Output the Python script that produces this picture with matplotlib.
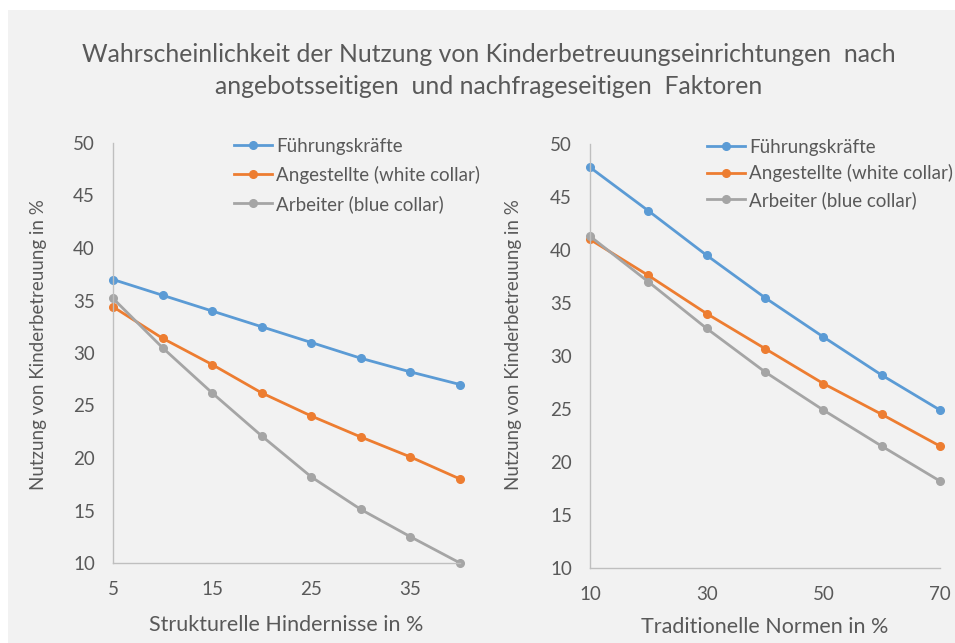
import matplotlib
matplotlib.use("Agg")
import matplotlib.pyplot as plt
from matplotlib.patches import Rectangle

plt.rcParams['font.family'] = ['Lato', 'DejaVu Sans']

# data
x_left = [5, 10, 15, 20, 25, 30, 35, 40]
fuehrung_left = [37.0, 35.5, 34.0, 32.5, 31.0, 29.5, 28.2, 27.0]
angest_left = [34.4, 31.4, 28.9, 26.2, 24.0, 22.0, 20.1, 18.0]
arbeiter_left = [35.2, 30.5, 26.2, 22.1, 18.2, 15.1, 12.5, 10.0]

x_right = [10, 20, 30, 40, 50, 60, 70]
fuehrung_right = [47.8, 43.7, 39.5, 35.5, 31.8, 28.2, 24.9]
angest_right = [41.0, 37.6, 34.0, 30.7, 27.4, 24.5, 21.5]
arbeiter_right = [41.3, 37.0, 32.6, 28.5, 24.9, 21.5, 18.2]

labels = ['Führungskräfte', 'Angestellte (white collar)', 'Arbeiter (blue collar)']
colors = ['#5B9BD5', '#ED7D31', '#A5A5A5']
text_col = '#595959'
spine_col = '#BFBFBF'
bg = '#F2F2F2'

W, H = 955, 643
fig = plt.figure(figsize=(W / 100, H / 100), dpi=100, facecolor='white')
fig.patches.append(Rectangle((8 / W, 0), 1, 1 - 10 / H, transform=fig.transFigure,
                             facecolor=bg, edgecolor='none', zorder=-10))

fig.text(489 / W, 1 - 54 / H, 'Wahrscheinlichkeit der Nutzung von Kinderbetreuungseinrichtungen  nach',
         ha='center', va='center', fontsize=17.8, color=text_col)
fig.text(489 / W, 1 - 87 / H, 'angebotsseitigen  und nachfrageseitigen  Faktoren',
         ha='center', va='center', fontsize=17.8, color=text_col)


def px_axes(x0, x1, ytop, ybot):
    return fig.add_axes([x0 / W, 1 - ybot / H, (x1 - x0) / W, (ybot - ytop) / H])


def style(ax, xticks, xlim, xlabel, xl_y, yl_pos, leg_anchor, leg_spacing):
    ax.set_facecolor('none')
    ax.set_xlim(xlim)
    ax.set_ylim(10, 50)
    ax.set_xticks(xticks)
    ax.set_yticks(range(10, 51, 5))
    ax.tick_params(length=0, labelsize=13.5, colors=text_col)
    ax.tick_params(axis='y', pad=13)
    ax.tick_params(axis='x', pad=13)
    for s in ['top', 'right']:
        ax.spines[s].set_visible(False)
    for s in ['left', 'bottom']:
        ax.spines[s].set_color(spine_col)
        ax.spines[s].set_linewidth(1)
    ax.set_xlabel(xlabel, fontsize=15.5, color=text_col, va='center')
    ax.xaxis.set_label_coords(0.5, xl_y)
    ax.set_ylabel('Nutzung von Kinderbetreuung in %', fontsize=13.5, color=text_col, va='center')
    ax.yaxis.set_label_coords(*yl_pos)
    ax.legend(loc='upper left', bbox_to_anchor=leg_anchor, frameon=False, fontsize=13.5,
              labelcolor=text_col, handlelength=2.0, handletextpad=0.25,
              labelspacing=leg_spacing, borderpad=0, borderaxespad=0)


ax1 = px_axes(113, 460, 143, 563)
for ys, lab, c in zip([fuehrung_left, angest_left, arbeiter_left], labels, colors):
    ax1.plot(x_left, ys, color=c, lw=2, marker='o', ms=5.5, label=lab, clip_on=False)
style(ax1, [5, 15, 25, 35], (5, 40), 'Strukturelle Hindernisse in %', -0.148,
      (-0.216, 0.521), ((234 - 113) / 347, (563 - 138) / 420), 0.58)

ax2 = px_axes(590, 940, 144, 568)
for ys, lab, c in zip([fuehrung_right, angest_right, arbeiter_right], labels, colors):
    ax2.plot(x_right, ys, color=c, lw=2, marker='o', ms=5.5, label=lab, clip_on=False)
style(ax2, [10, 30, 50, 70], (10, 70), 'Traditionelle Normen in %', -0.139,
      (-0.22, 0.528), ((707 - 590) / 350, (568 - 139) / 424), 0.45)

fig.savefig('out.png', dpi=100, facecolor='white')
